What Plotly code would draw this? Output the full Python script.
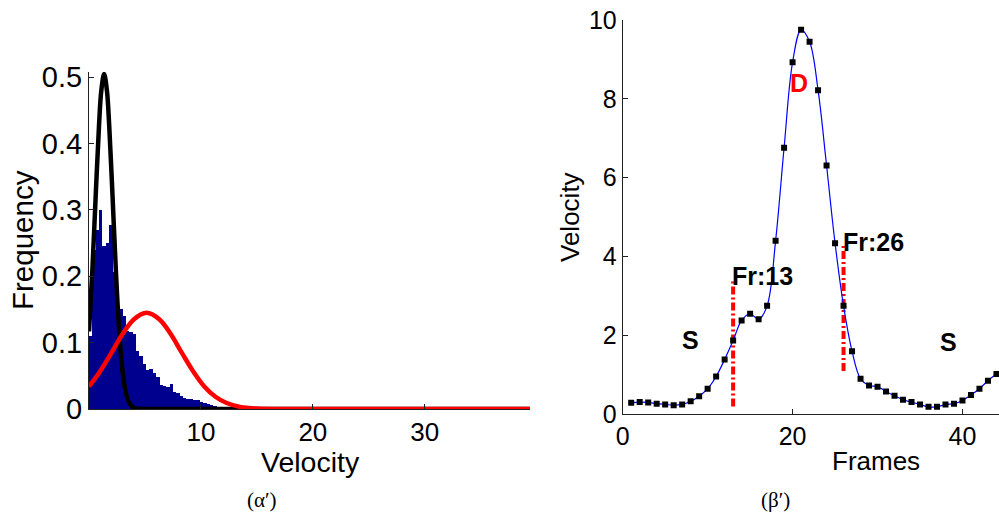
import plotly.graph_objects as go

# ---------------- Left panel data: velocity histogram + fitted curves ----------------
hist_centers = [0.15, 0.45, 0.75, 1.05, 1.35, 1.65, 1.95, 2.25, 2.55, 2.85,
                3.15, 3.45, 3.75, 4.05, 4.35, 4.65, 4.95, 5.25, 5.55, 5.85,
                6.15, 6.45, 6.75, 7.05, 7.35, 7.65, 7.95, 8.25, 8.55, 8.85,
                9.15, 9.45, 9.75, 10.05, 10.35, 10.65, 10.95, 11.25, 11.55]
hist_heights = [0.11, 0.24, 0.27, 0.30, 0.245, 0.25, 0.277, 0.206, 0.17, 0.15,
                0.14, 0.118, 0.116, 0.113, 0.088, 0.080, 0.068, 0.059, 0.060, 0.055,
                0.048, 0.036, 0.035, 0.033, 0.038, 0.025, 0.024, 0.020, 0.016, 0.015,
                0.015, 0.014, 0.013, 0.010, 0.009, 0.008, 0.006, 0.004, 0.002]
hist_width = 0.3

black_x = [0, 0.3, 0.6, 0.9, 1.1, 1.35, 1.6, 1.8, 2.1, 2.4, 2.7, 3.0, 3.3, 3.6, 4.0, 4.5, 5.0, 39.4]
black_y = [0.117, 0.209, 0.322, 0.429, 0.480, 0.505, 0.480, 0.429, 0.322, 0.209,
           0.117, 0.057, 0.024, 0.009, 0.002, 0.0002, 0, 0]

red_x = [0, 1, 2, 3, 4, 5.15, 6.3, 7.3, 8.3, 9.3, 10.3, 11.3, 12.3, 13.5, 15.0, 17.0, 39.4]
red_y = [0.034, 0.057, 0.0845, 0.113, 0.135, 0.145, 0.135, 0.113, 0.0845, 0.057,
         0.034, 0.0185, 0.009, 0.0032, 0.0007, 0, 0]

left_xticks = [10, 20, 30]
left_yticks = [0, 0.1, 0.2, 0.3, 0.4, 0.5]
left_yticklabels = ["0", "0.1", "0.2", "0.3", "0.4", "0.5"]

# ---------------- Right panel data: velocity per frame ----------------
frames = list(range(1, 45))
velocity = [0.29, 0.31, 0.30, 0.27, 0.25, 0.23, 0.25, 0.33, 0.46, 0.65,
            0.96, 1.39, 1.87, 2.38, 2.55, 2.41, 2.75, 4.40, 6.76, 8.93,
            9.75, 9.45, 8.22, 6.31, 4.34, 2.75, 1.60, 0.90, 0.73, 0.70,
            0.58, 0.47, 0.37, 0.31, 0.25, 0.19, 0.19, 0.25, 0.27, 0.35,
            0.49, 0.65, 0.85, 1.02]
boundary_frames = [13, 26]
boundary_low = [0.2, 1.1]
boundary_high = [3.4, 4.3]
right_xticks = [0, 20, 40]
right_yticks = [0, 2, 4, 6, 8, 10]

FONT = "Liberation Sans"
W, H = 999, 513

def px_x(p):
    return p / W

def px_y(p):
    return 1 - p / H

fig = go.Figure()

fig.add_trace(go.Bar(x=hist_centers, y=hist_heights, width=[hist_width] * len(hist_centers),
                     marker=dict(color="#00008F", line=dict(width=0)),
                     xaxis="x", yaxis="y", showlegend=False))
fig.add_trace(go.Scatter(x=black_x, y=black_y, mode="lines",
                         line=dict(color="black", width=4.5, shape="spline"),
                         xaxis="x", yaxis="y", showlegend=False))
fig.add_trace(go.Scatter(x=red_x, y=red_y, mode="lines",
                         line=dict(color="#FF0000", width=4.5, shape="spline"),
                         xaxis="x", yaxis="y", showlegend=False))

for fx, lo, hi in zip(boundary_frames, boundary_low, boundary_high):
    fig.add_trace(go.Scatter(x=[fx, fx], y=[lo, hi], mode="lines",
                             line=dict(color="#FF0000", width=4, dash="8px,3px,2px,3px"),
                             xaxis="x2", yaxis="y2", showlegend=False))

fig.add_trace(go.Scatter(x=frames, y=velocity, mode="lines+markers",
                         line=dict(color="#0000FF", width=1.2, shape="spline"),
                         marker=dict(symbol="square", size=6, color="black"),
                         xaxis="x2", yaxis="y2", showlegend=False))

def axis_style(size):
    return dict(showline=True, linecolor="#222", linewidth=1, ticks="inside",
                ticklen=5, tickcolor="#222", showgrid=False, zeroline=False,
                automargin=False,
                tickfont=dict(family=FONT, size=size, color="black"))

fig.update_layout(
    template="none",
    width=W, height=H, margin=dict(l=0, r=0, t=0, b=0, pad=0, autoexpand=False),
    paper_bgcolor="white", plot_bgcolor="white", bargap=0,
    xaxis=dict(domain=[px_x(89), px_x(530)], range=[0, 39.4], tickvals=left_xticks,
               anchor="y", **axis_style(26)),
    yaxis=dict(domain=[px_y(409), px_y(72)], range=[0, 0.508], tickvals=left_yticks,
               ticktext=left_yticklabels, anchor="x", **axis_style(29)),
    xaxis2=dict(domain=[px_x(622.7), 1.0], range=[0, 44.3], tickvals=right_xticks,
                anchor="y2", **axis_style(25)),
    yaxis2=dict(domain=[px_y(414.3), px_y(20)], range=[0, 10], tickvals=right_yticks,
                anchor="x2", **axis_style(25)),
)

left_title = dict(family=FONT, size=29.5, color="black")
right_title = dict(family=FONT, size=26, color="black")
sub_font = dict(family="Liberation Serif", size=21, color="black")
annotations = [
    dict(text="Frequency", x=px_x(22), y=px_y(240), textangle=-90, font=left_title),
    dict(text="Velocity", x=px_x(310), y=px_y(462), font=dict(family=FONT, size=28.5, color="black")),
    dict(text="Velocity", x=px_x(570), y=px_y(217), textangle=-90, font=right_title),
    dict(text="Frames", x=px_x(876), y=px_y(461), font=right_title),
    dict(text="(α′)", x=px_x(262), y=px_y(500), font=sub_font),
    dict(text="(β′)", x=px_x(775), y=px_y(500), font=sub_font),
]
for a in annotations:
    a.update(xref="paper", yref="paper", showarrow=False, xanchor="center", yanchor="middle")

bold = dict(family=FONT, size=25, color="black")
data_ann = [
    dict(text="<b>S</b>", x=8.0, y=1.88, font=bold, xanchor="center"),
    dict(text="<b>S</b>", x=38.3, y=1.84, font=bold, xanchor="center"),
    dict(text="<b>D</b>", x=20.8, y=8.4, font=dict(family=FONT, size=25, color="#FF0000"), xanchor="center"),
    dict(text="<b>Fr:13</b>", x=13.0, y=3.5, font=bold, xanchor="left"),
    dict(text="<b>Fr:26</b>", x=26.0, y=4.36, font=bold, xanchor="left"),
]
for a in data_ann:
    a.update(xref="x2", yref="y2", showarrow=False, yanchor="middle", xshift=0)
    if a["xanchor"] == "left":
        a["xshift"] = -3

fig.update_layout(annotations=annotations + data_ann)

fig.write_html("out.html")
